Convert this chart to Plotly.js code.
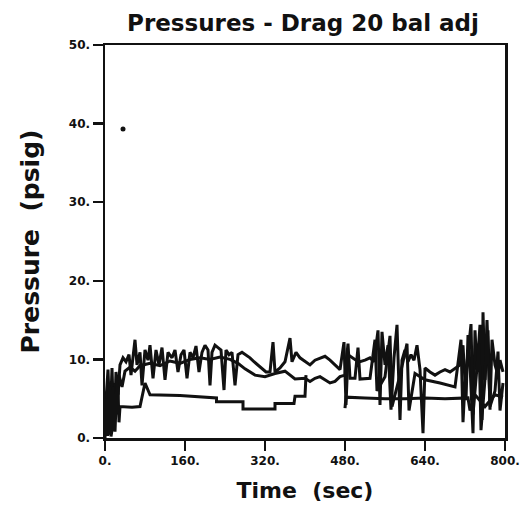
<!DOCTYPE html>
<html>
<head>
<meta charset="utf-8">
<script src="https://cdn.plot.ly/plotly-3.0.1.min.js"></script>
<style>html,body{margin:0;padding:0;background:#fff;}#chart{width:521px;height:508px;}</style>
</head>
<body>
<div id="chart"></div>
<script>
// Time (sec) and pressure (psig) readings
const upperTime = [2,6,10,14,18,22,26,30,36,42,48,52,56,60,64,70,74,80,86,90,96,102,108,114,120,126,134,140,146,152,158,164,170,176,182,188,194,200,206,210,214,220,226,232,238,242,248,254,260,266,274,282,290,298,306,314,322,330,336,340,350,360,370,374,382,390,400,410,420,430,440,450,460,470,478,482,486,494,502,510,520,530,538,546,550,554,560,566,572,578,584,590,594,600,606,612,618,624,630,636,640,650,660,670,680,690,700,710,716,722,726,730,736,740,744,750,754,756,760,766,770,774,780,786,790,796];
const upperPsig = [4.8,8.7,1.7,8.9,1.0,8.4,5.5,9.3,10.2,9.7,10.6,8.0,10.3,12.5,9.3,10.9,6.7,11.2,9.9,11.8,7.6,11.2,9.3,11.5,7.4,10.9,10.2,11.2,8.4,10.6,11.2,7.6,10.9,10.2,11.7,8.4,10.9,11.8,11.2,6.7,10.9,11.8,11.5,11.2,6.1,11.2,10.6,10.9,6.7,10.6,10.9,10.6,10.2,9.7,9.3,8.9,8.4,8.4,12.2,8.4,8.9,9.7,12.7,9.7,10.9,10.2,9.7,9.3,9.9,10.2,10.4,9.9,9.3,8.7,12.2,4.2,10.6,10.2,9.9,9.7,9.9,10.2,9.7,13.7,4.2,13.5,9.3,11.8,3.6,10.2,14.4,2.3,9.9,11.2,9.7,10.6,9.9,11.8,8.7,0.6,8.9,8.4,8.0,8.4,8.7,8.4,8.9,9.3,11.8,4.8,13.1,9.3,0.6,13.7,8.7,14.4,2.3,16.0,7.4,13.7,3.6,12.5,9.3,8.0,9.9,8.4];

const middleTime = [0,4,8,12,16,20,24,28,34,40,50,60,70,90,110,130,150,170,190,210,230,250,266,280,300,320,340,360,380,400,410,420,430,440,450,460,470,480,486,490,500,506,510,530,540,544,560,570,574,590,604,608,620,640,670,700,712,716,720,732,736,740,748,752,760,764,770,780,786,790,796];
const middlePsig = [1.5,6.0,0.5,5.0,2.0,7.0,3.0,8.0,6.5,8.5,9.0,8.5,9.2,9.5,9.2,9.8,9.5,10.0,10.2,10.0,10.3,10.0,9.5,8.8,8.0,7.8,8.2,8.5,7.5,7.6,7.2,7.6,7.8,7.4,7.0,7.2,7.8,8.0,12.0,7.6,7.6,11.5,7.5,7.6,12.5,6.0,7.8,13.0,4.0,8.0,12.0,3.5,8.2,7.4,7.0,6.5,12.5,2.0,7.0,14.5,3.0,6.0,12.0,1.0,7.5,15.0,4.0,6.0,11.0,3.5,7.0];

const lowerTime = [0,2,3,5,6,8,10,12,14,16,18,20,22,24,26,28,30,54,70,80,90,150,223,223,276,276,340,340,378,380,400,402,null,480,482,520,560,600,640,680,726,730,740,760,780,796];
const lowerPsig = [0,3.0,5.0,0.3,0.5,7.0,6.0,0.2,1.0,6.5,4.5,0.8,3.5,7.5,6.0,2.0,4.0,3.9,4.0,7.0,5.5,5.4,5.1,4.6,4.6,3.7,3.7,4.4,4.4,5.3,5.3,8.0,null,3.8,5.2,5.1,5.0,5.0,5.1,5.0,5.1,3.5,5.5,4.0,5.5,5.2];

const dotTime = [36];
const dotPsig = [39.3];

const xTickVals = [0,160,320,480,640,800];
const xTickText = ["0.","160.","320.","480.","640.","800."];
const yTickVals = [0,10,20,30,40,50];
const yTickText = ["0.","10.","20.","30.","40.","50."];

const lineStyle = {color:'#111', width:3, shape:'linear'};
const traces = [
  {x:upperTime, y:upperPsig, mode:'lines', line:lineStyle, connectgaps:false, hoverinfo:'skip'},
  {x:middleTime, y:middlePsig, mode:'lines', line:lineStyle, connectgaps:false, hoverinfo:'skip'},
  {x:lowerTime, y:lowerPsig, mode:'lines', line:lineStyle, connectgaps:false, hoverinfo:'skip'},
  {x:dotTime, y:dotPsig, mode:'markers', marker:{color:'#111', size:5}, hoverinfo:'skip'}
];

const fontFam = 'DejaVu Sans, sans-serif';
const axisCommon = {
  showgrid:false, zeroline:false, showline:true, mirror:true,
  linecolor:'#111', linewidth:2.5,
  ticks:'outside', ticklen:10, tickwidth:2.5, tickcolor:'#111',
  tickfont:{family:fontFam, size:12, color:'#111', weight:'bold'}
};

const layout = {
  width:521, height:508,
  margin:{l:105, r:16, t:45, b:70},
  paper_bgcolor:'#fff', plot_bgcolor:'#fff',
  showlegend:false,
  title:{text:'Pressures - Drag 20 bal adj', font:{family:fontFam, size:23, color:'#111', weight:'bold'},
         x:0.495, xanchor:'center', y:0.955, yanchor:'middle', xref:'paper', yref:'container'},
  xaxis:Object.assign({}, axisCommon, {
    range:[0,800], tickvals:xTickVals, ticktext:xTickText,
    title:{text:'Time  (sec)', font:{family:fontFam, size:22, color:'#111', weight:'bold'}, standoff:16}
  }),
  yaxis:Object.assign({}, axisCommon, {
    range:[0,50], tickvals:yTickVals, ticktext:yTickText,
    title:{text:'Pressure  (psig)', font:{family:fontFam, size:25, color:'#111', weight:'bold'}, standoff:22}
  })
};

Plotly.newPlot('chart', traces, layout, {staticPlot:true, displayModeBar:false});
</script>
</body>
</html>
